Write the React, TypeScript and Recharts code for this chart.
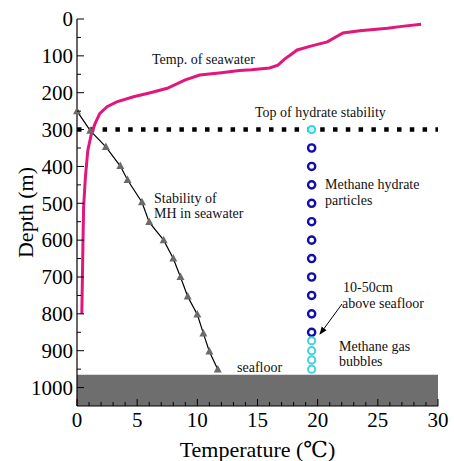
import React from "react";
import {
	ComposedChart,
	Line,
	Scatter,
	XAxis,
	YAxis,
	ReferenceArea,
	ReferenceLine,
	Customized,
} from "recharts";

// seawater temperature profile (degC, depth m)
const seaTemp = [28.6, 27, 25.8, 23.5, 22.1, 20.8, 19.5, 18.3, 17.2, 16.7, 16.0, 14.5, 13.5, 12.0, 10.2, 9.0, 7.5, 6.1, 4.7, 3.3, 2.5, 1.9, 1.5, 1.2, 0.9, 0.7, 0.55, 0.5, 0.45, 0.4];
const seaDepth = [14, 20, 25, 32, 38, 62, 73, 84, 110, 125, 133, 138, 140, 146, 152, 165, 188, 200, 211, 225, 238, 256, 284, 311, 356, 428, 510, 600, 700, 800];

// stability of MH in seawater
const stabTemp = [0, 1.1, 2.4, 3.6, 4.2, 5.4, 6.0, 7.2, 8.0, 8.6, 9.2, 10.0, 10.5, 11.0, 11.7];
const stabDepth = [250, 303, 347, 399, 437, 497, 551, 600, 650, 700, 753, 802, 853, 902, 951];

// particles / bubbles
const obsTemp = 19.5;
const hydrateDepth = [350, 400, 450, 500, 550, 600, 650, 700, 750, 800, 850];
const bubbleDepth = [873, 900, 925, 950];
const topStability = 300;
const seafloorTop = 965;

const xTicks = Array.from({ length: 31 }, (_, i) => i);
const yTicks = Array.from({ length: 21 }, (_, i) => i * 50);

const seaData = seaTemp.map((t, i) => ({ t, d: seaDepth[i] }));
const stabData = stabTemp.map((t, i) => ({ t, d: stabDepth[i] }));
const hydrateData = hydrateDepth.map((d) => ({ t: obsTemp, d }));
const bubbleData = [topStability, ...bubbleDepth].map((d) => ({ t: obsTemp, d }));

const FONT = "Liberation Serif, DejaVu Serif, Times New Roman, serif";

const xTick = (side: "bottom" | "top") => (props: any) => {
	const { x, y, payload } = props;
	const v = payload.value;
	const major = v % 5 === 0;
	const len = major ? 7 : 4;
	const dir = side === "bottom" ? -1 : 1;
	return (
		<g>
			<line x1={x} y1={y} x2={x} y2={y + dir * len} stroke="#000" strokeWidth={1} />
			{side === "bottom" && major && (
				<text x={x} y={y + 21} textAnchor="middle" style={{ fontSize: 21, fontFamily: FONT }} fill="#000">
					{v}
				</text>
			)}
		</g>
	);
};

const yTick = (side: "left" | "right") => (props: any) => {
	const { x, y, payload } = props;
	const v = payload.value;
	const major = v % 100 === 0;
	const len = major ? 7 : 4;
	const dir = side === "left" ? 1 : -1;
	return (
		<g>
			<line x1={x} y1={y} x2={x + dir * len} y2={y} stroke="#000" strokeWidth={1} />
			{side === "left" && major && (
				<text x={x - 4} y={y} dy="0.35em" textAnchor="end" style={{ fontSize: 21, fontFamily: FONT }} fill="#000">
					{v}
				</text>
			)}
		</g>
	);
};

const Triangle = (props: any) => {
	const { cx, cy } = props;
	if (cx == null || cy == null) return null;
	return <path d={`M${cx},${cy - 4.5} L${cx + 4},${cy + 3} L${cx - 4},${cy + 3} Z`} fill="#6b6b6b" />;
};

const HydrateDot = (props: any) => (
	<circle cx={props.cx} cy={props.cy} r={3.6} fill="#fff" stroke="#1010a8" strokeWidth={2.4} />
);

const BubbleDot = (props: any) => (
	<circle
		cx={props.cx}
		cy={props.cy}
		r={3.6}
		fill={props.payload.d === topStability ? "#bff3f7" : "#fff"}
		stroke="#3fd2de"
		strokeWidth={2}
	/>
);

const txt = { style: { fontSize: 14, fontFamily: FONT }, fill: "#111" };

const Notes = () => (
	<g>
		<defs>
			<marker id="arr" markerWidth="8" markerHeight="8" refX="7" refY="4" orient="auto" markerUnits="userSpaceOnUse">
				<path d="M0,1 L8,4 L0,7 Z" fill="#000" />
			</marker>
		</defs>
		<text x={152} y={64} {...txt}>Temp. of seawater</text>
		<text x={255} y={117} {...txt}>Top of hydrate stability</text>
		<text x={325} y={189} {...txt}>Methane hydrate</text>
		<text x={325} y={205} {...txt}>particles</text>
		<text x={154} y={203} {...txt}>Stability of</text>
		<text x={154} y={218} {...txt}>MH in seawater</text>
		<text x={343} y={292} {...txt}>10-50cm</text>
		<text x={342} y={308} {...txt}>above seafloor</text>
		<text x={339} y={351} {...txt}>Methane gas</text>
		<text x={339} y={366} {...txt}>bubbles</text>
		<text x={237} y={372} {...txt}>seafloor</text>
		<line x1={342} y1={304} x2={320} y2={334} stroke="#000" strokeWidth={1} markerEnd="url(#arr)" />
	</g>
);

export default function App() {
	return (
		<div style={{ position: "absolute", left: 0, top: 0, background: "#fff", fontFamily: FONT }}>
			<ComposedChart
				width={454}
				height={461}
				margin={{ top: 19, right: 16, left: 0, bottom: 0 }}
				style={{ fontFamily: FONT }}
			>
				<XAxis
					dataKey="t"
					type="number"
					domain={[0, 30]}
					ticks={xTicks}
					interval={0}
					height={55}
					tickSize={0}
					tickMargin={0}
					tickLine={false}
					axisLine={{ stroke: "#000", strokeWidth: 1.2 }}
					tick={xTick("bottom")}
					label={{
						value: "Temperature (℃)",
						position: "insideBottom",
						offset: 4,
						style: { fontSize: 22, fontFamily: FONT, fill: "#000" },
					}}
				/>
				<XAxis
					xAxisId="top"
					orientation="top"
					type="number"
					domain={[0, 30]}
					ticks={xTicks}
					interval={0}
					height={0}
					tickSize={0}
					tickMargin={0}
					tickLine={false}
					axisLine={{ stroke: "#000", strokeWidth: 1.2 }}
					tick={xTick("top")}
				/>
				<YAxis
					dataKey="d"
					type="number"
					reversed
					domain={[0, 1050]}
					allowDataOverflow
					ticks={yTicks}
					interval={0}
					width={77}
					tickSize={0}
					tickMargin={0}
					tickLine={false}
					axisLine={{ stroke: "#000", strokeWidth: 1.2 }}
					tick={yTick("left")}
					label={{
						value: "Depth (m)",
						angle: -90,
						position: "insideLeft",
						offset: 25,
						style: { fontSize: 22, fontFamily: FONT, fill: "#000", textAnchor: "middle" },
					}}
				/>
				<YAxis
					yAxisId="right"
					orientation="right"
					type="number"
					reversed
					domain={[0, 1050]}
					allowDataOverflow
					ticks={yTicks}
					interval={0}
					width={0}
					tickSize={0}
					tickMargin={0}
					tickLine={false}
					axisLine={{ stroke: "#000", strokeWidth: 1.2 }}
					tick={yTick("right")}
				/>
				<ReferenceArea y1={seafloorTop} y2={1050} fill="#6e6e6e" fillOpacity={1} stroke="none" ifOverflow="hidden" />
				<ReferenceLine y={topStability} stroke="#000" strokeWidth={4.5} strokeDasharray="4.5 8.3" />
				<Line
					data={seaData}
					dataKey="d"
					type="linear"
					stroke="#e0187c"
					strokeWidth={3}
					dot={false}
					isAnimationActive={false}
				/>
				<Line
					data={stabData}
					dataKey="d"
					type="linear"
					stroke="#000"
					strokeWidth={1.2}
					dot={<Triangle />}
					isAnimationActive={false}
				/>
				<Scatter data={hydrateData} dataKey="d" shape={<HydrateDot />} isAnimationActive={false} />
				<Scatter data={bubbleData} dataKey="d" shape={<BubbleDot />} isAnimationActive={false} />
				<Customized component={Notes} />
			</ComposedChart>
		</div>
	);
}
